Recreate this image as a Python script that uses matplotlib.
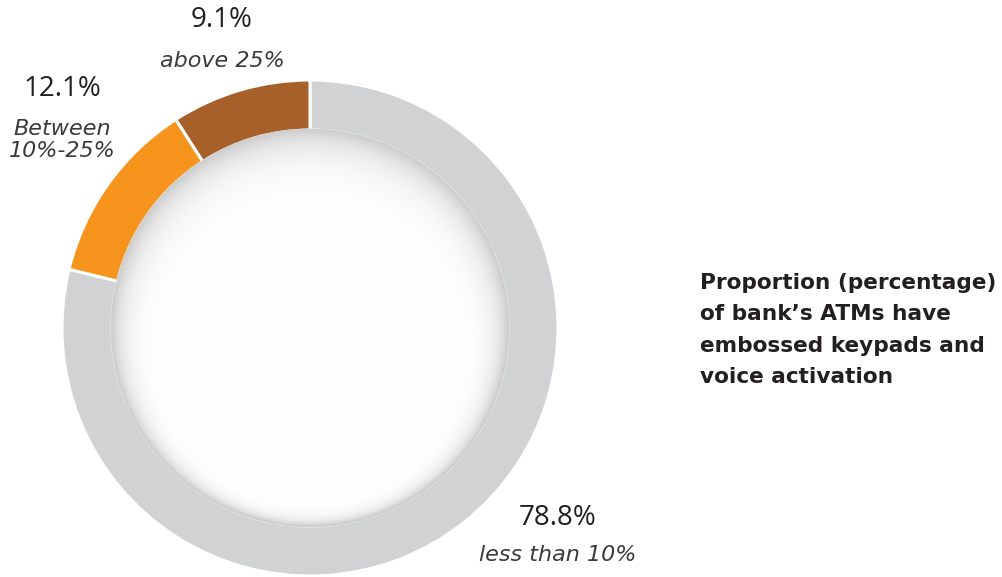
import numpy as np
import matplotlib.pyplot as plt
from matplotlib.patches import Circle

categorias = ["less than 10%", "Between\n10%-25%", "above 25%"]
valores = [78.8, 12.1, 9.1]
colores = ["#D1D2D4", "#F7941D", "#A8602A"]
titulo = "Proportion (percentage)\nof bank\u2019s ATMs have\nembossed keypads and\nvoice activation"

W, H = 1003, 577
cx, cy = 310, H - 328
R = 248
ancho = 50

plt.rcParams['font.family'] = ['Open Sans', 'DejaVu Sans']

fig = plt.figure(figsize=(W / 100, H / 100), dpi=100)
ax = fig.add_axes([0, 0, 1, 1])

wedges, _ = ax.pie(
    valores,
    colors=colores,
    center=(cx, cy),
    radius=R,
    startangle=90,
    counterclock=False,
    wedgeprops=dict(width=ancho, edgecolor='white', linewidth=2.2),
)

# sombra interior del agujero (más marcada arriba)
r_in = R - ancho
m = r_in + 4
yy, xx = np.mgrid[cy - m:cy + m:600j, cx - m:cx + m:600j]
d = np.hypot(xx - cx, yy - cy)
sen = (yy - cy) / np.maximum(d, 1)
w = 13 + 7 * sen
shade = 1 - 0.19 * np.exp(-np.clip(r_in - d, 0, None) / w)
img = np.dstack([shade, shade, shade])
im = ax.imshow(img, extent=(cx - m, cx + m, cy - m, cy + m),
               origin='lower', zorder=3, interpolation='bilinear')
clip = Circle((cx, cy), r_in + 1.3, transform=ax.transData)
im.set_clip_path(clip)

txt = "#231F20"
num_kw = dict(ha='center', va='center', fontsize=20, color=txt)
lab_kw = dict(ha='center', va='center', fontsize=16, style='italic', color="#3a3a3a",
              family='DejaVu Sans')
# valores y etiquetas
ax.text(222, H - 20, f"{valores[2]}%", **num_kw)
ax.text(222, H - 61, categorias[2], **lab_kw)
ax.text(62, H - 89, f"{valores[1]}%", **num_kw)
ax.text(62, H - 140, categorias[1], linespacing=1.1, **lab_kw)
ax.text(558, H - 518, f"{valores[0]}%", **num_kw)
ax.text(558, H - 555, categorias[0], **lab_kw)

ax.text(700, H - 330, titulo, ha='left', va='center', fontsize=15.6, fontweight='bold',
        color=txt, linespacing=1.72, family='DejaVu Sans')

ax.set_xlim(0, W)
ax.set_ylim(0, H)
ax.set_aspect('auto')
ax.axis('off')
plt.savefig("out.png", dpi=100)
plt.close(fig)
